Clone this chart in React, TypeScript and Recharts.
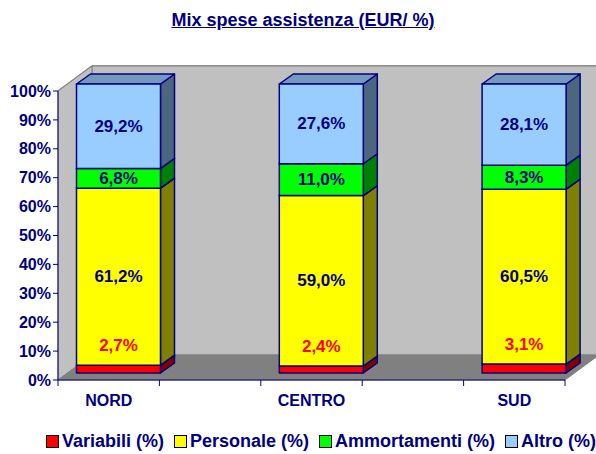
import { BarChart, Bar, XAxis, YAxis, CartesianGrid, Legend, LabelList } from 'recharts';

const categories = ['NORD', '', 'CENTRO', '', 'SUD'];
const variabili = [2.7, null, 2.4, null, 3.1];
const personale = [61.2, null, 59.0, null, 60.5];
const ammortamenti = [6.8, null, 11.0, null, 8.3];
const altro = [29.2, null, 27.6, null, 28.1];
const seriesNames = ['Variabili (%)', 'Personale (%)', 'Ammortamenti (%)', 'Altro (%)'];
const yTicks = [0, 0.1, 0.2, 0.3, 0.4, 0.5, 0.6, 0.7, 0.8, 0.9, 1];

const data = categories.map((name, i) => ({
  name,
  variabili: variabili[i],
  personale: personale[i],
  ammortamenti: ammortamenti[i],
  altro: altro[i],
}));

const NAVY = '#000080';
const FONT = '"Liberation Sans", Arial, sans-serif';

// layout of the front plane
const W = 596;
const H = 454;
const PL = 58;
const PT = 91;
const PR = 565;
const PB = 380;
// depth of the walls and of the boxes
const WDX = 34;
const WDY = -25;
const BX = 9.5;
const BY = -7;
const BDX = 14;
const BDY = -10;

const colors = {
  variabili: { front: '#FF0000', side: '#800000', top: '#C00000' },
  personale: { front: '#FFFF00', side: '#808000', top: '#BFBF00' },
  ammortamenti: { front: '#00FF00', side: '#008000', top: '#00BF00' },
  altro: { front: '#99CCFF', side: '#4D6680', top: '#7399BF' },
};
const legendColors = [colors.variabili.front, colors.personale.front, colors.ammortamenti.front, colors.altro.front];

const fmt = (v: number) => v.toFixed(1).replace('.', ',') + '%';

function Walls() {
  return (
    <g>
      <polygon
        points={`${PL + WDX},${PT + WDY} ${PR + WDX},${PT + WDY} ${PR + WDX},${PB + WDY} ${PL + WDX},${PB + WDY}`}
        fill="#C0C0C0"
        stroke="#808080"
      />
      <polygon
        points={`${PL},${PT} ${PL + WDX},${PT + WDY} ${PL + WDX},${PB + WDY} ${PL},${PB}`}
        fill="#C0C0C0"
        stroke="#808080"
      />
      <polygon
        points={`${PL},${PB} ${PR},${PB} ${PR + WDX},${PB + WDY} ${PL + WDX},${PB + WDY}`}
        fill="#808080"
        stroke="#808080"
      />
    </g>
  );
}

function gridLine(props: any) {
  const { y1, key } = props;
  const edge = Math.abs(y1 - PB) < 1 || Math.abs(y1 - PT) < 1;
  return (
    <polyline
      key={key}
      points={`${PL},${y1} ${PL + WDX},${y1 + WDY} ${PR + WDX},${y1 + WDY}`}
      fill="none"
      stroke={edge ? '#808080' : '#000000'}
      strokeWidth={edge ? 1.5 : 1}
    />
  );
}

function Box3D(props: any) {
  const { x, y, width, height, c } = props;
  if (!height || height <= 0.5) return null;
  const fx = x + BX;
  const fy = y + BY;
  const w = width;
  const h = height;
  const st = { stroke: NAVY, strokeWidth: 1.5, strokeLinejoin: 'round' as const };
  return (
    <g>
      <polygon
        points={`${fx + w},${fy} ${fx + w + BDX},${fy + BDY} ${fx + w + BDX},${fy + h + BDY} ${fx + w},${fy + h}`}
        fill={c.side}
        {...st}
      />
      <polygon
        points={`${fx},${fy} ${fx + BDX},${fy + BDY} ${fx + w + BDX},${fy + BDY} ${fx + w},${fy}`}
        fill={c.top}
        {...st}
      />
      <rect x={fx} y={fy} width={w} height={h} fill={c.front} {...st} />
    </g>
  );
}

const centerLabel = (props: any) => {
  const { x, y, width, height, value } = props;
  if (value == null) return null;
  return (
    <text
      x={x + BX + width / 2}
      y={y + BY + height / 2}
      textAnchor="middle"
      dominantBaseline="central"
      fill={NAVY}
      fontFamily={FONT}
      fontWeight="bold"
      fontSize={17}
    >
      {fmt(value)}
    </text>
  );
};

// the small red values sit on the yellow face, just above the red slab
const lowLabel = (props: any) => {
  const { x, y, width, height, value } = props;
  if (value == null) return null;
  return (
    <text
      x={x + BX + width / 2}
      y={y + BY + height - 20}
      textAnchor="middle"
      dominantBaseline="central"
      fill="#FF0000"
      fontFamily={FONT}
      fontWeight="bold"
      fontSize={17}
    >
      {fmt(value)}
    </text>
  );
};

function CategoryTick(props: any) {
  const { x, payload, index } = props;
  const bw = (PR - PL) / categories.length;
  return (
    <g>
      <line x1={x - bw / 2} y1={PB} x2={x - bw / 2} y2={PB + 6} stroke={NAVY} />
      {index === categories.length - 1 && <line x1={x + bw / 2} y1={PB} x2={x + bw / 2} y2={PB + 6} stroke={NAVY} />}
      {payload.value && (
        <text x={x} y={PB + 26} textAnchor="middle" fill={NAVY} fontFamily={FONT} fontWeight="bold" fontSize={16}>
          {payload.value}
        </text>
      )}
    </g>
  );
}

function LegendBox() {
  return (
    <div style={{ display: 'flex', alignItems: 'center', height: 24, paddingLeft: 46, fontFamily: FONT, fontWeight: 'bold', fontSize: 18, color: NAVY, whiteSpace: 'nowrap' }}>
      {seriesNames.map((n, i) => (
        <div key={n} style={{ display: 'flex', alignItems: 'center', marginRight: 10 }}>
          <span style={{ display: 'inline-block', width: 11, height: 11, background: legendColors[i], border: '1px solid #000', marginRight: 3 }} />
          <span>{n}</span>
        </div>
      ))}
    </div>
  );
}

export default function App() {
  return (
    <div style={{ position: 'absolute', left: 0, top: 0, width: W, height: H, background: '#fff', overflow: 'hidden' }}>
      <div
        style={{
          position: 'absolute',
          top: 10,
          left: 5,
          width: W,
          textAlign: 'center',
          fontFamily: FONT,
          fontWeight: 'bold',
          fontSize: 18,
          lineHeight: '20px',
          color: NAVY,
          textDecoration: 'underline',
          zIndex: 2,
        }}
      >
        Mix spese assistenza (EUR/ %)
      </div>
      <BarChart
        width={W}
        height={H}
        data={data}
        stackOffset="expand"
        barSize={84}
        margin={{ top: PT, right: W - PR, left: 0, bottom: 1 }}
      >
        <Walls />
        <CartesianGrid horizontal={gridLine} vertical={false} />
        <YAxis
          type="number"
          domain={[0, 1]}
          ticks={yTicks}
          width={PL}
          tickFormatter={(v: number) => `${Math.round(v * 100)}%`}
          stroke={NAVY}
          tickSize={5}
          tickMargin={2}
          tick={{ fill: NAVY, fontFamily: FONT, fontWeight: 'bold', fontSize: 16 }}
        />
        <XAxis dataKey="name" height={49} stroke={NAVY} tickLine={false} interval={0} tick={<CategoryTick />} />
        <Legend verticalAlign="bottom" height={24} wrapperStyle={{ left: 0, width: W }} content={<LegendBox />} />
        <Bar dataKey="variabili" stackId="a" isAnimationActive={false} shape={(p: any) => <Box3D {...p} c={colors.variabili} />} />
        <Bar dataKey="personale" stackId="a" isAnimationActive={false} shape={(p: any) => <Box3D {...p} c={colors.personale} />}>
          <LabelList dataKey="personale" content={centerLabel} />
          <LabelList dataKey="variabili" content={lowLabel} />
        </Bar>
        <Bar dataKey="ammortamenti" stackId="a" isAnimationActive={false} shape={(p: any) => <Box3D {...p} c={colors.ammortamenti} />}>
          <LabelList dataKey="ammortamenti" content={centerLabel} />
        </Bar>
        <Bar dataKey="altro" stackId="a" isAnimationActive={false} shape={(p: any) => <Box3D {...p} c={colors.altro} />}>
          <LabelList dataKey="altro" content={centerLabel} />
        </Bar>
      </BarChart>
    </div>
  );
}
